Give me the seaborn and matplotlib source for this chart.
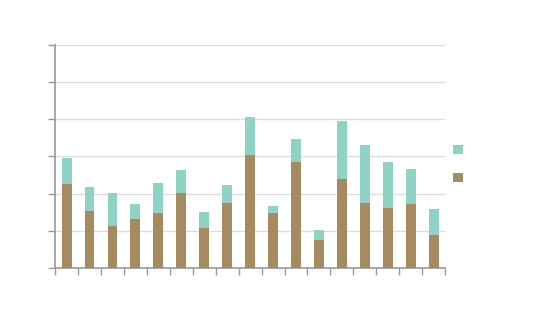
import matplotlib
matplotlib.use("Agg")
import matplotlib.pyplot as plt
import seaborn as sns
import pandas as pd
from matplotlib.patches import Patch

sns.set_style("white")
plt.rcParams["font.family"] = ["DejaVu Sans"]

# Data
categories = [str(y) for y in range(2000, 2017)]
base_values = [1130, 767, 565, 660, 740, 1009, 538, 875, 1521, 740, 1427, 377, 1198, 875, 808, 861, 444]
extra_values = [350, 323, 444, 201, 404, 310, 216, 242, 511, 94, 309, 134, 780, 780, 619, 471, 350]
series_names = ["Match", "In"]
y_ticks = [0, 500, 1000, 1500, 2000, 2500, 3000]

TEAL = "#8fd3c4"
BROWN = "#a68a60"
TEXT = "#fefefe"

df = pd.DataFrame({
    "category": categories,
    "base": base_values,
    "extra": extra_values,
})
df["total"] = df["base"] + df["extra"]

fig = plt.figure(figsize=(5.35, 3.25), dpi=100)
ax = fig.add_axes([0.103, 0.175, 0.729, 0.687])

sns.barplot(data=df, x="category", y="total", color=TEAL, width=0.43,
            saturation=1, ax=ax, zorder=3)
sns.barplot(data=df, x="category", y="base", color=BROWN, width=0.43,
            saturation=1, ax=ax, zorder=3)
for p in ax.patches:
    p.set_edgecolor("none")

ax.set_xlim(-0.5, len(categories) - 0.5)
ax.set_ylim(0, 3000)
ax.set_yticks(y_ticks)
ax.set_yticklabels([str(t) for t in y_ticks], color=TEXT, fontsize=9)
ax.yaxis.grid(True, color="#dddddd", linewidth=1, zorder=0)

# Category labels at centres, tick marks at boundaries
ax.set_xticks(range(len(categories)))
ax.set_xticklabels(categories, rotation=90, color=TEXT, fontsize=8)
ax.tick_params(axis="x", which="major", bottom=True, length=0, pad=8)
ax.set_xticks([i - 0.5 for i in range(len(categories) + 1)], minor=True)
ax.tick_params(axis="x", which="minor", bottom=True, length=5, width=1,
               color="#999999", direction="out")
ax.tick_params(axis="y", which="major", left=True, length=5, width=1,
               color="#999999", direction="out")

ax.set_xlabel("")
ax.set_ylabel("")
for side in ["top", "right"]:
    ax.spines[side].set_visible(False)
for side in ["left", "bottom"]:
    ax.spines[side].set_color("#999999")
    ax.spines[side].set_linewidth(1.2)

handles = [Patch(facecolor=TEAL, edgecolor="none"), Patch(facecolor=BROWN, edgecolor="none")]
leg = fig.legend(handles, series_names, loc="center left", bbox_to_anchor=(0.825, 0.495),
                 frameon=False, handlelength=0.8, handleheight=0.8, labelspacing=1.2,
                 fontsize=9, labelcolor=TEXT)

fig.suptitle("Annual totals by category", color=TEXT, fontsize=11, y=0.93)

fig.savefig("out.png", dpi=100, facecolor="white")
